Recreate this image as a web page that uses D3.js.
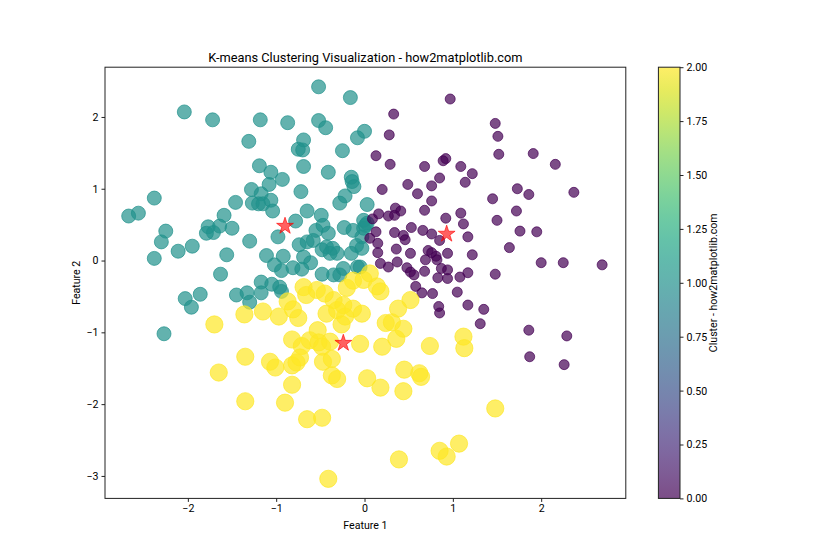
<!DOCTYPE html>
<html>
<head>
<meta charset="utf-8">
<script src="https://cdn.jsdelivr.net/npm/d3@7"></script>
<style>
  html, body { margin: 0; padding: 0; background: #fff; }
  svg { display: block; font-family: "Segoe UI", Roboto, "Noto Sans", sans-serif; }
</style>
</head>
<body>
<svg id="chart" width="840" height="560"></svg>
<script>
// ---- data ----
const cluster0 = [[0.97,2.25],[0.33,2.04],[1.48,1.91],[1.51,1.73],[0.28,1.75],[0.13,1.46],[0.29,1.34],[0.92,1.42],[0.89,1.39],[1.52,1.48],[1.91,1.49],[2.16,1.34],[0.68,1.31],[1.09,1.31],[1.22,1.21],[0.85,1.15],[1.14,1.09],[0.49,1.06],[0.76,1.04],[0.20,0.99],[0.60,0.93],[1.73,1.00],[1.86,0.92],[2.37,0.95],[1.45,0.86],[0.76,0.83],[0.68,0.70],[0.35,0.73],[0.41,0.69],[0.34,0.63],[0.27,0.62],[0.16,0.65],[0.09,0.58],[1.09,0.66],[0.92,0.59],[1.72,0.69],[1.50,0.56],[1.12,0.51],[1.76,0.41],[1.95,0.40],[0.53,0.46],[0.66,0.42],[0.76,0.37],[0.44,0.35],[0.46,0.29],[0.34,0.39],[0.13,0.40],[0.15,0.24],[0.06,0.31],[0.85,0.28],[1.17,0.33],[1.64,0.18],[0.15,0.11],[0.36,0.16],[0.52,0.10],[0.72,0.14],[0.76,0.11],[0.81,0.06],[0.94,0.10],[1.22,0.08],[0.18,-0.04],[0.27,-0.09],[0.37,-0.02],[0.69,0.01],[0.82,0.01],[0.48,-0.10],[0.52,-0.16],[0.56,-0.20],[0.68,-0.15],[0.87,-0.11],[0.94,-0.13],[0.94,-0.25],[0.83,-0.24],[1.08,-0.23],[1.17,-0.17],[1.48,-0.19],[2.00,-0.03],[2.25,-0.03],[2.69,-0.06],[0.58,-0.36],[0.65,-0.45],[0.77,-0.46],[1.05,-0.44],[0.84,-0.64],[0.85,-0.73],[1.17,-0.62],[1.35,-0.68],[1.31,-0.88],[1.86,-0.97],[2.29,-1.05],[1.87,-1.34],[2.26,-1.45]];

const cluster1 = [[-0.52,2.42],[-0.16,2.27],[-2.04,2.07],[-1.72,1.96],[-1.18,1.96],[-0.87,1.92],[-0.52,1.95],[-0.44,1.85],[0.00,1.80],[-0.08,1.71],[-1.31,1.66],[-0.69,1.68],[-0.75,1.55],[-0.70,1.54],[-0.25,1.53],[-1.19,1.32],[-1.06,1.23],[-0.69,1.31],[-0.41,1.23],[-0.93,1.13],[-1.08,1.06],[-0.15,1.16],[-0.14,1.10],[-0.12,1.03],[-2.38,0.87],[-1.28,0.99],[-1.17,0.93],[-0.72,0.96],[-1.46,0.81],[-1.27,0.80],[-1.20,0.79],[-1.15,0.79],[-1.06,0.84],[-1.04,0.69],[-0.22,0.90],[-0.28,0.80],[0.03,0.78],[-2.67,0.62],[-2.56,0.66],[-1.59,0.63],[-0.65,0.69],[-0.49,0.63],[-2.25,0.41],[-2.30,0.26],[-1.77,0.47],[-1.79,0.38],[-1.71,0.39],[-1.64,0.48],[-1.50,0.45],[-1.30,0.27],[-0.78,0.55],[-0.98,0.33],[-0.55,0.42],[-0.47,0.49],[-0.41,0.38],[-0.23,0.46],[-0.13,0.42],[-0.01,0.45],[-2.38,0.03],[-2.11,0.13],[-1.95,0.20],[-1.56,0.08],[-1.11,0.07],[-0.92,0.06],[-0.74,0.22],[-0.65,0.26],[-0.58,0.28],[-0.48,0.15],[-0.43,0.19],[-0.36,0.17],[-0.31,0.10],[-0.39,0.10],[-0.15,0.10],[-0.09,0.21],[-0.03,0.17],[-0.69,0.05],[-0.61,-0.03],[-1.02,-0.06],[-0.94,-0.14],[-0.81,-0.10],[-0.71,-0.12],[-1.63,-0.19],[-1.17,-0.30],[-0.48,-0.19],[-0.35,-0.20],[-0.24,-0.11],[-0.08,-0.09],[-2.03,-0.53],[-1.96,-0.65],[-1.86,-0.47],[-1.45,-0.48],[-1.33,-0.45],[-1.30,-0.58],[-1.17,-0.45],[-1.05,-0.33],[-0.96,-0.37],[-0.94,-0.43],[-2.27,-1.02],[-0.01,0.56],[0.01,0.49],[-0.03,0.33],[-0.05,-0.09],[0.03,0.52],[-0.28,-0.20]];

const cluster2 = [[-1.70,-0.89],[-1.36,-0.75],[-1.15,-0.71],[-0.97,-0.78],[-0.87,-0.57],[-0.81,-0.68],[-0.75,-0.80],[-0.69,-0.37],[-0.66,-0.48],[-0.54,-0.41],[-0.45,-0.46],[-0.35,-0.55],[-0.20,-0.38],[-0.13,-0.28],[-0.01,-0.27],[0.14,-0.36],[-0.43,-0.74],[-0.31,-0.69],[-0.22,-0.78],[-0.13,-0.67],[-0.03,-0.74],[-0.26,-0.89],[-0.53,-0.97],[-0.82,-1.10],[-0.71,-1.19],[-0.62,-1.11],[-0.52,-1.14],[-0.48,-1.20],[-0.39,-1.13],[-0.05,-1.16],[0.20,-1.20],[0.24,-0.87],[0.31,-0.86],[-1.35,-1.34],[-1.65,-1.56],[-1.07,-1.41],[-1.01,-1.49],[-0.82,-1.46],[-0.77,-1.42],[-0.73,-1.35],[-0.47,-1.41],[-0.37,-1.37],[-0.37,-1.60],[-0.31,-1.65],[0.03,-1.64],[0.18,-1.77],[-0.82,-1.73],[-1.35,-1.96],[-0.90,-1.98],[-0.65,-2.21],[-0.48,-2.19],[-0.41,-3.04],[0.06,-0.18],[0.18,-0.43],[-0.24,-0.62],[0.52,-0.55],[0.38,-0.67],[0.44,-0.95],[0.36,-1.09],[0.74,-1.19],[1.12,-1.06],[1.13,-1.22],[0.45,-1.52],[0.62,-1.57],[0.64,-1.62],[0.44,-1.82],[1.48,-2.06],[0.39,-2.77],[0.85,-2.65],[0.93,-2.73],[1.07,-2.55]];

const centroids = [[-0.90,0.48],[0.93,0.37],[-0.24,-1.15]];

const xTicks = [-2, -1, 0, 1, 2];
const yTicks = [-3, -2, -1, 0, 1, 2];
const cbTicks = [0, 0.25, 0.5, 0.75, 1.0, 1.25, 1.5, 1.75, 2.0];

const titleText = "K-means Clustering Visualization - how2matplotlib.com";
const xLabel = "Feature 1";
const yLabel = "Feature 2";
const cbLabel = "Cluster - how2matplotlib.com";

// ---- layout ----
const svg = d3.select("#chart");
const L = 105, R = 625.8, T = 67.2, B = 498.4;
const FONT = '"Segoe UI", Roboto, "Noto Sans", sans-serif';
const clusters = [cluster0, cluster1, cluster2];
const allPts = clusters.flat().concat(centroids);
const xe = d3.extent(allPts, d => d[0]);
const ye = d3.extent(allPts, d => d[1]);
const xp = (xe[1] - xe[0]) * 0.05, yp = (ye[1] - ye[0]) * 0.05;
const x = d3.scaleLinear().domain([xe[0] - xp, xe[1] + xp]).range([L, R]);
const y = d3.scaleLinear().domain([ye[0] - yp, ye[1] + yp]).range([B, T]);

const color = d3.scaleSequential(d3.interpolateViridis).domain([0, 2]);
const radius = [5.0, 7.0, 8.6];

// points: draw teal, purple, yellow
const order = [1, 0, 2];
const gPts = svg.append("g");
order.forEach(c => {
  gPts.selectAll(null).data(clusters[c]).enter().append("circle")
    .attr("cx", d => x(d[0]))
    .attr("cy", d => y(d[1]))
    .attr("r", radius[c])
    .attr("fill", color(c))
    .attr("fill-opacity", 0.7)
    .attr("stroke", color(c))
    .attr("stroke-opacity", 0.7)
    .attr("stroke-width", 1);
});

// centroids
const star = d3.symbol().type(d3.symbolStar).size(88);
svg.append("g").selectAll("path").data(centroids).enter().append("path")
  .attr("d", star)
  .attr("transform", d => `translate(${x(d[0])},${y(d[1])})`)
  .attr("fill", "red")
  .attr("fill-opacity", 0.62)
  .attr("stroke", "red")
  .attr("stroke-opacity", 0.62)
  .attr("stroke-width", 1);

// axes
const xAxis = svg.append("g").attr("transform", `translate(0,${B})`)
  .call(d3.axisBottom(x).tickValues(xTicks).tickSize(3.5).tickSizeOuter(0).tickPadding(3).tickFormat(d3.format("")));
const yAxis = svg.append("g").attr("transform", `translate(${L},0)`)
  .call(d3.axisLeft(y).tickValues(yTicks).tickSize(3.5).tickSizeOuter(0).tickPadding(3).tickFormat(d3.format("")));
[xAxis, yAxis].forEach(a => {
  a.select(".domain").remove();
  a.selectAll("line").attr("stroke", "#222");
  a.selectAll("text").attr("font-size", 10.6).attr("fill", "#000").style("font-family", FONT);
});

// frame
svg.append("rect").attr("x", L).attr("y", T).attr("width", R - L).attr("height", B - T)
  .attr("fill", "none").attr("stroke", "#222").attr("stroke-width", 1);

// title & labels
svg.append("text").attr("x", (L + R) / 2).attr("y", 61.5).attr("text-anchor", "middle")
  .attr("font-size", 12.8).text(titleText);
svg.append("text").attr("x", (L + R) / 2).attr("y", 529).attr("text-anchor", "middle")
  .attr("font-size", 10.6).text(xLabel);
svg.append("text").attr("transform", `translate(80,${(T + B) / 2}) rotate(-90)`)
  .attr("text-anchor", "middle").attr("font-size", 10.6).text(yLabel);

// colorbar
const cbL = 658.4, cbW = 21.6;
const defs = svg.append("defs");
const grad = defs.append("linearGradient").attr("id", "cbgrad")
  .attr("x1", 0).attr("y1", 1).attr("x2", 0).attr("y2", 0);
d3.range(0, 1.0001, 0.05).forEach(t => {
  grad.append("stop").attr("offset", t).attr("stop-color", d3.interpolateViridis(t)).attr("stop-opacity", 0.7);
});
svg.append("rect").attr("x", cbL).attr("y", T).attr("width", cbW).attr("height", B - T)
  .attr("fill", "url(#cbgrad)");
const cbScale = d3.scaleLinear().domain([0, 2]).range([B, T]);
const cbAxis = svg.append("g").attr("transform", `translate(${cbL + cbW},0)`)
  .call(d3.axisRight(cbScale).tickValues(cbTicks).tickSize(3.5).tickSizeOuter(0).tickPadding(3).tickFormat(d3.format(".2f")));
cbAxis.select(".domain").remove();
cbAxis.selectAll("line").attr("stroke", "#222");
cbAxis.selectAll("text").attr("font-size", 10.6).attr("fill", "#000").style("font-family", FONT);
svg.append("rect").attr("x", cbL).attr("y", T).attr("width", cbW).attr("height", B - T)
  .attr("fill", "none").attr("stroke", "#222").attr("stroke-width", 1);
svg.append("text").attr("transform", `translate(717,${(T + B) / 2}) rotate(-90)`)
  .attr("text-anchor", "middle").attr("font-size", 10.6).text(cbLabel);
</script>
</body>
</html>
